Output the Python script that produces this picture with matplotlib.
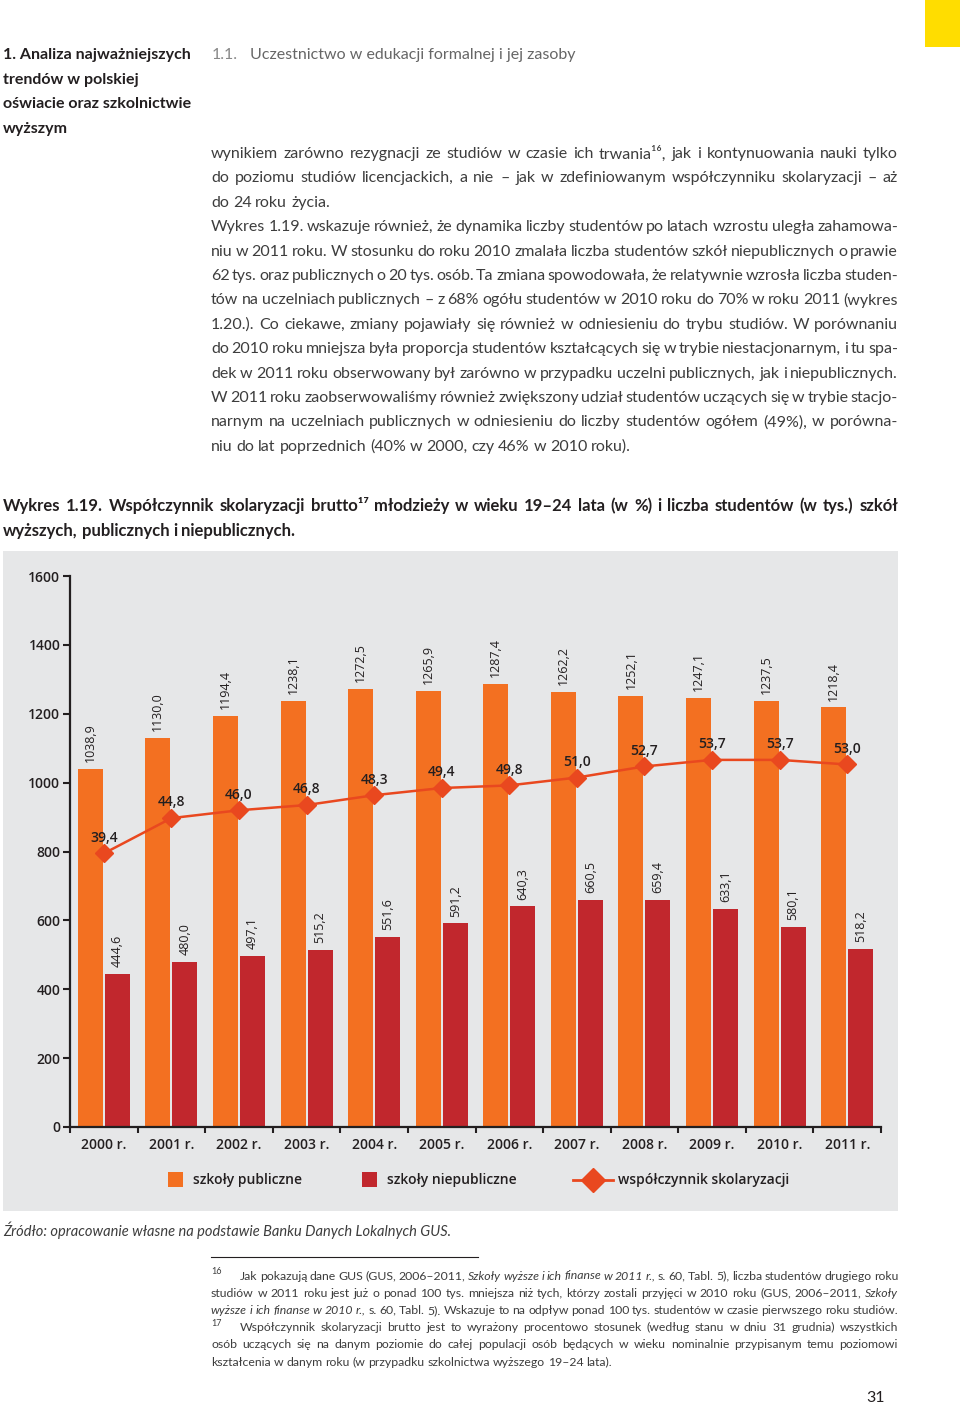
import matplotlib.pyplot as plt
from matplotlib.patches import Rectangle
from matplotlib.lines import Line2D
import numpy as np

years = ['2000 r.', '2001 r.', '2002 r.', '2003 r.', '2004 r.', '2005 r.',
         '2006 r.', '2007 r.', '2008 r.', '2009 r.', '2010 r.', '2011 r.']
public = [1038.9, 1130.0, 1194.4, 1238.1, 1272.5, 1265.9,
          1287.4, 1262.2, 1252.1, 1247.1, 1237.5, 1218.4]
private = [444.6, 480.0, 497.1, 515.2, 551.6, 591.2,
           640.3, 660.5, 659.4, 633.1, 580.1, 518.2]
rate = [39.4, 44.8, 46.0, 46.8, 48.3, 49.4, 49.8, 51.0, 52.7, 53.7, 53.7, 53.0]
y_ticks = [0, 200, 400, 600, 800, 1000, 1200, 1400, 1600]

ORANGE = '#f37021'
RED = '#c1272d'
LINE = '#e9481f'
BG = '#e6e7e8'
INK = '#231f20'
GREY = '#3d3d3d'
FAM = ['Lato', 'DejaVu Sans']
CHART_FAM = ['Open Sans', 'DejaVu Sans']

W, H = 960, 1406
fig = plt.figure(figsize=(W / 100, H / 100), dpi=100)
fig.patch.set_facecolor('white')

# page overlay in pixel coordinates
pg = fig.add_axes([0, 0, 1, 1], zorder=0)
pg.set_xlim(0, W)
pg.set_ylim(H, 0)
pg.axis('off')

renderer = fig.canvas.get_renderer()


def fmt(v):
    return f'{v:.1f}'.replace('.', ',')


def line_text(text, x0, x1, y, size, weight='normal', color=GREY, justify=True):
    # draw one line word by word, spread to fill x0..x1 when justify
    words = text.split(' ')
    arts = []
    italic = False
    for w in words:
        if w.startswith('*'):
            italic = True
            w = w[1:]
        cur = italic
        if '*' in w:
            italic = False
            w = w.replace('*', '')
        t = pg.text(0, y, w, fontsize=size, fontweight=weight, color=color,
                    family=FAM, style='italic' if cur else 'normal',
                    va='center', ha='left')
        arts.append(t)
    widths = [a.get_window_extent(renderer).width for a in arts]
    space = size * 0.24 * 100 / 72
    if justify and len(arts) > 1:
        gap = (x1 - x0 - sum(widths)) / (len(arts) - 1)
    else:
        gap = space
    x = x0
    for a, wd in zip(arts, widths):
        a.set_x(x)
        x += wd + gap


# yellow tab
pg.add_patch(Rectangle((925, 0), 35, 47, color='#ffdd00', lw=0))

# header
for yy, s in zip([55, 80, 104, 129], ['1. Analiza najważniejszych', 'trendów w polskiej',
                                       'oświacie oraz szkolnictwie', 'wyższym']):
    pg.text(3, yy, s, fontsize=11.5, fontweight='bold', color=INK, family=FAM, va='center')
pg.text(212, 55, '1.1.', fontsize=11.5, color='#888888', family=FAM, va='center')
pg.text(250, 55, 'Uczestnictwo w edukacji formalnej i jej zasoby', fontsize=11.5,
        color='#666666', family=FAM, va='center')

body = [
    ('wynikiem zarówno rezygnacji ze studiów w czasie ich trwania¹⁶, jak i kontynuowania nauki tylko', True),
    ('do poziomu studiów licencjackich, a nie – jak w zdefiniowanym współczynniku skolaryzacji – aż', True),
    ('do 24 roku życia.', False),
    ('Wykres 1.19. wskazuje również, że dynamika liczby studentów po latach wzrostu uległa zahamowa-', True),
    ('niu w 2011 roku. W stosunku do roku 2010 zmalała liczba studentów szkół niepublicznych o prawie', True),
    ('62 tys. oraz publicznych o 20 tys. osób. Ta zmiana spowodowała, że relatywnie wzrosła liczba studen-', True),
    ('tów na uczelniach publicznych – z 68% ogółu studentów w 2010 roku do 70% w roku 2011 (wykres', True),
    ('1.20.). Co ciekawe, zmiany pojawiały się również w odniesieniu do trybu studiów. W porównaniu', True),
    ('do 2010 roku mniejsza była proporcja studentów kształcących się w trybie niestacjonarnym, i tu spa-', True),
    ('dek w 2011 roku obserwowany był zarówno w przypadku uczelni publicznych, jak i niepublicznych.', True),
    ('W 2011 roku zaobserwowaliśmy również zwiększony udział studentów uczących się w trybie stacjo-', True),
    ('narnym na uczelniach publicznych w odniesieniu do liczby studentów ogółem (49%), w porówna-', True),
    ('niu do lat poprzednich (40% w 2000, czy 46% w 2010 roku).', False),
]
for i, (s, j) in enumerate(body):
    line_text(s, 211, 898, 154 + i * 24.4, 11.5, justify=j)

# chart title
line_text('Wykres 1.19. Współczynnik skolaryzacji brutto¹⁷ młodzieży w wieku 19–24 lata (w %) i liczba studentów (w tys.) szkół',
          3, 898, 506, 12, weight='bold', color=INK)
line_text('wyższych, publicznych i niepublicznych.', 3, 898, 531, 12, weight='bold', color=INK, justify=False)

# chart background
pg.add_patch(Rectangle((3, 551), 895, 660, color=BG, lw=0))

# legend (drawn by hand to match the layout)
pg.add_patch(Rectangle((168, 1172), 15, 15, color=ORANGE, lw=0))
pg.text(193, 1180, 'szkoły publiczne', fontsize=10, fontweight='semibold', color=INK,
        family=CHART_FAM, va='center')
pg.add_patch(Rectangle((362, 1172), 15, 15, color=RED, lw=0))
pg.text(387, 1180, 'szkoły niepubliczne', fontsize=10, fontweight='semibold', color=INK,
        family=CHART_FAM, va='center')
pg.add_line(Line2D([573, 613], [1180, 1180], color=LINE, lw=2))
pg.plot([593], [1180], marker='D', ms=12, color=LINE, mec=LINE)
pg.text(618, 1180, 'współczynnik skolaryzacji', fontsize=10, fontweight='semibold', color=INK,
        family=CHART_FAM, va='center')

# source
pg.text(3, 1230, 'Źródło: opracowanie własne na podstawie Banku Danych Lokalnych GUS.', fontsize=10.5,
        style='italic', color=GREY, family=FAM, va='center')

# footnotes
pg.add_line(Line2D([211, 478], [1257, 1257], color=INK, lw=0.8))
pg.text(211, 1272, '16', fontsize=6.5, color=GREY, family=FAM, va='center')
pg.text(211, 1324, '17', fontsize=6.5, color=GREY, family=FAM, va='center')
foot = [
    ('Jak pokazują dane GUS (GUS, 2006–2011, *Szkoły wyższe i ich finanse w 2011 r.*, s. 60, Tabl. 5), liczba studentów drugiego roku', 240, True),
    ('studiów w 2011 roku jest już o ponad 100 tys. mniejsza niż tych, którzy zostali przyjęci w 2010 roku (GUS, 2006–2011, *Szkoły*', 211, True),
    ('*wyższe i ich finanse w 2010 r.*, s. 60, Tabl. 5). Wskazuje to na odpływ ponad 100 tys. studentów w czasie pierwszego roku studiów.', 211, True),
    ('Współczynnik skolaryzacji brutto jest to wyrażony procentowo stosunek (według stanu w dniu 31 grudnia) wszystkich', 240, True),
    ('osób uczących się na danym poziomie do całej populacji osób będących w wieku nominalnie przypisanym temu poziomowi', 211, True),
    ('kształcenia w danym roku (w przypadku szkolnictwa wyższego 19–24 lata).', 211, False),
]
for i, (s, x0, j) in enumerate(foot):
    line_text(s, x0, 898, 1276 + i * 17.2, 8.8, justify=j)

pg.text(876, 1398, '31', fontsize=11.5, color=INK, family=FAM, va='center', ha='center')

# ---- the chart ----
ax = fig.add_axes([70 / W, 1 - 1127 / H, (881 - 70) / W, (1127 - 576) / H], zorder=2)
ax.set_facecolor('none')
x = np.arange(len(years))
bw = 0.37
ax.bar(x - 0.2, public, bw, color=ORANGE, zorder=2)
ax.bar(x + 0.2, private, bw, color=RED, zorder=2)
for xi, v in zip(x, public):
    ax.text(xi - 0.2, v + 20, fmt(v), rotation=90, ha='center', va='bottom', fontsize=9,
            color=INK, family=CHART_FAM)
for xi, v in zip(x, private):
    ax.text(xi + 0.2, v + 20, fmt(v), rotation=90, ha='center', va='bottom', fontsize=9,
            color=INK, family=CHART_FAM)

ax.set_xlim(-0.5, len(years) - 0.5)
ax.set_ylim(0, 1600)
ax.set_yticks(y_ticks)
ax.set_yticklabels([str(t) for t in y_ticks], fontsize=10, fontweight='semibold',
                   color=INK, family=CHART_FAM)
ax.set_xticks(np.arange(-0.5, len(years)), labels=[])
ax.set_xticks(x, labels=years, minor=True)
for lab in ax.get_xticklabels(minor=True):
    lab.set_fontsize(10)
    lab.set_fontweight('semibold')
    lab.set_color(INK)
    lab.set_family(CHART_FAM)
ax.tick_params(axis='x', which='major', length=4, width=1.5, direction='out', color=INK)
ax.tick_params(axis='x', which='minor', length=0, pad=8)
ax.tick_params(axis='y', length=5, width=1.5, direction='out', color=INK, pad=2)
for sp in ['top', 'right']:
    ax.spines[sp].set_visible(False)
for sp in ['left', 'bottom']:
    ax.spines[sp].set_linewidth(1.6)
    ax.spines[sp].set_color(INK)

# rate on a hidden secondary scale
ax2 = ax.twinx()
ax2.set_ylim(-2.4, 81.8)
ax2.axis('off')
ax2.plot(x, rate, color=LINE, lw=1.8, marker='D', ms=9, mec=LINE, zorder=3)
for xi, v in zip(x, rate):
    ax2.text(xi, v + 2.4, fmt(v), ha='center', va='center', fontsize=10,
             fontweight='semibold', color=INK, family=CHART_FAM, zorder=4)

fig.savefig('out.png', dpi=100)
